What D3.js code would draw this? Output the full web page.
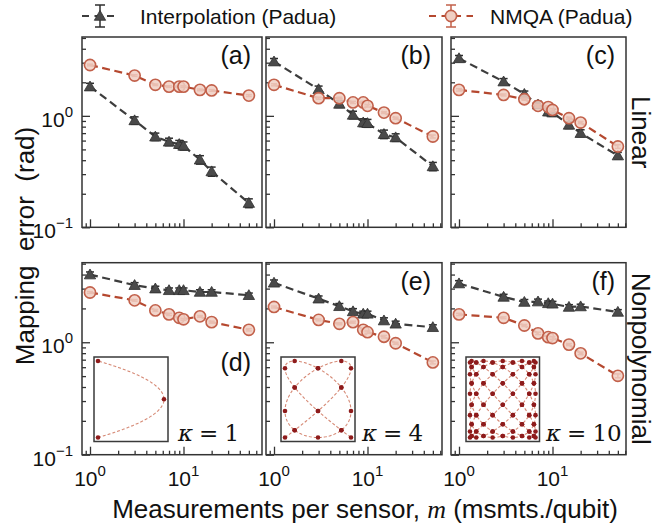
<!DOCTYPE html>
<html><head><meta charset="utf-8">
<script src="https://cdn.jsdelivr.net/npm/d3@7"></script>
<style>body{margin:0;background:#fff} svg{display:block}</style>
</head><body><svg id="c" width="657" height="528"></svg>
<script>
// ---------------- DATA ----------------
const mValues = [1, 3, 5, 7, 9, 10, 15, 20, 50];
const panelLabels = ["(a)", "(b)", "(c)", "(d)", "(e)", "(f)"];
const rowLabels = ["Linear", "Nonpolynomial"];
const kappaValues = [1, 4, 10];
const xTickLabels = ["0", "1"];
const yTickLabels = ["\u22121", "0"];
const legendLabels = ["Interpolation (Padua)", "NMQA (Padua)"];

const interpA = [1.83, 0.91, 0.65, 0.585, 0.557, 0.538, 0.404, 0.317, 0.165];
const interpB = [3.07, 1.73, 1.28, 1.02, 0.871, 0.859, 0.685, 0.640, 0.352];
const interpC = [3.28, 2.03, 1.57, 1.26, 1.09, 1.07, 0.83, 0.70, 0.44];
const interpD = [4.00, 3.22, 3.00, 2.90, 2.90, 2.90, 2.80, 2.80, 2.62];
const interpE = [3.38, 2.44, 2.09, 1.88, 1.79, 1.79, 1.56, 1.46, 1.36];
const interpF = [3.33, 2.53, 2.28, 2.30, 2.22, 2.20, 2.06, 2.08, 1.86];

const nmqaA = [2.86, 2.30, 1.90, 1.83, 1.83, 1.83, 1.71, 1.69, 1.52];
const nmqaB = [1.90, 1.44, 1.44, 1.32, 1.32, 1.23, 1.07, 0.953, 0.653];
const nmqaC = [1.71, 1.54, 1.41, 1.23, 1.20, 1.13, 0.953, 0.871, 0.531];
const nmqaD = [2.77, 2.36, 1.92, 1.77, 1.65, 1.60, 1.70, 1.51, 1.29];
const nmqaE = [2.06, 1.58, 1.46, 1.51, 1.29, 1.23, 1.12, 0.98, 0.662];
const nmqaF = [1.77, 1.65, 1.41, 1.20, 1.11, 1.09, 0.953, 0.797, 0.503];

const interpErrA = [0.13, 0.07, 0.05, 0.045, 0.045, 0.045, 0.035, 0.03, 0.015];
const interpErrB = [0.20, 0.12, 0.09, 0.08, 0.07, 0.07, 0.06, 0.05, 0.03];
const interpErrC = [0.20, 0.13, 0.10, 0.09, 0.08, 0.08, 0.06, 0.05, 0.03];
const interpErrD = [0.22, 0.17, 0.15, 0.14, 0.14, 0.14, 0.13, 0.13, 0.12];
const interpErrE = [0.20, 0.14, 0.12, 0.11, 0.10, 0.10, 0.09, 0.08, 0.07];
const interpErrF = [0.20, 0.14, 0.12, 0.12, 0.11, 0.11, 0.10, 0.10, 0.09];

const nmqaErrA = [0.05, 0.04, 0.03, 0.03, 0.03, 0.03, 0.03, 0.03, 0.03];
const nmqaErrB = [0.04, 0.03, 0.03, 0.03, 0.03, 0.03, 0.02, 0.02, 0.02];
const nmqaErrC = [0.04, 0.03, 0.03, 0.03, 0.03, 0.03, 0.02, 0.02, 0.02];
const nmqaErrD = [0.05, 0.04, 0.04, 0.04, 0.03, 0.03, 0.03, 0.03, 0.03];
const nmqaErrE = [0.04, 0.03, 0.03, 0.03, 0.03, 0.03, 0.03, 0.02, 0.02];
const nmqaErrF = [0.04, 0.03, 0.03, 0.03, 0.03, 0.03, 0.02, 0.02, 0.02];

const interpSeries = [interpA, interpB, interpC, interpD, interpE, interpF];
const interpErrs = [interpErrA, interpErrB, interpErrC, interpErrD, interpErrE, interpErrF];
const nmqaSeries = [nmqaA, nmqaB, nmqaC, nmqaD, nmqaE, nmqaF];
const nmqaErrs = [nmqaErrA, nmqaErrB, nmqaErrC, nmqaErrD, nmqaErrE, nmqaErrF];

// ---------------- STYLE / LAYOUT ----------------
const FONT = "'Liberation Sans', Arial, Helvetica, sans-serif";
const SERIF = "'DejaVu Serif', 'Liberation Serif', serif";
const frameColor = "#333";
const interpColor = "#3d3d3d";
const nmqaColor = "#b5482f";
const circleStroke = "#c2604a";
const circleFill = "#f0cfc3";
const dotColor = "#8e1b1b";
const curveColor = "#d68a76";

const colsX = [[82, 262], [266, 442], [451, 626]];
const rowsY = [[37, 227.3], [262.7, 454.7]];
const yDomain = [0.1, 5.1];
const decadePx = 93.5, zeroOff = 8;
const majorY = [0.1, 1], minorY = [0.2,0.3,0.4,0.5,0.6,0.7,0.8,0.9,2,3,4,5];
const majorX = [1, 10];
const minorXAll = [0.9,2,3,4,5,6,7,8,9,20,30,40,50,60];

const svg = d3.select("#c");
svg.append("rect").attr("width", 657).attr("height", 528).attr("fill", "#fff");

const triangle = d3.symbol().type(d3.symbolTriangle).size(56);

function drawErr(g, cx, ya, yb, color, capW) {
  g.append("line").attr("x1", cx).attr("x2", cx).attr("y1", ya).attr("y2", yb)
    .attr("stroke", color).attr("stroke-width", 1.5);
  [ya, yb].forEach(yy => g.append("line").attr("x1", cx - capW/2).attr("x2", cx + capW/2)
    .attr("y1", yy).attr("y2", yy).attr("stroke", color).attr("stroke-width", 1.5));
}

function padua(n) {
  // generating curve of the Padua points of degree n
  const curve = d3.range(0, 401).map(i => {
    const t = Math.PI * i / 400;
    return [-Math.cos((n + 1) * t), -Math.cos(n * t)];
  });
  const pts = d3.range(0, n * (n + 1) + 1).map(k => {
    const t = k * Math.PI / (n * (n + 1));
    return [-Math.cos((n + 1) * t), -Math.cos(n * t)];
  });
  return {curve, pts};
}

const insetBoxes = [[94, 357, 168, 441.5], [281, 357, 355, 441.5], [466, 357, 539.5, 441.5]];
const kappaX = [178, 362, 546];

for (let i = 0; i < 6; i++) {
  const r = Math.floor(i / 3), c = i % 3;
  const [x0, x1] = colsX[c], [y0, y1] = rowsY[r];
  const x = d3.scaleLog()
    .domain([Math.pow(10, -zeroOff / decadePx), Math.pow(10, (x1 - x0 - zeroOff) / decadePx)])
    .range([x0, x1]);
  const y = d3.scaleLog().domain(yDomain).range([y1, y0]);
  const g = svg.append("g");

  // inset (Padua points) for bottom row
  if (r === 1) {
    const [bx0, by0, bx1, by1] = insetBoxes[c];
    const pad = 4;
    const ix = d3.scaleLinear().domain([-1, 1]).range([bx0 + pad, bx1 - pad]);
    const iy = d3.scaleLinear().domain([-1, 1]).range([by1 - pad, by0 + pad]);
    const {curve, pts} = padua(kappaValues[c]);
    g.append("rect").attr("x", bx0).attr("y", by0).attr("width", bx1 - bx0).attr("height", by1 - by0)
      .attr("fill", "#fff").attr("stroke", "#3a3a3a").attr("stroke-width", 1.5);
    g.append("path").attr("d", d3.line().x(d => ix(d[0])).y(d => iy(d[1]))(curve))
      .attr("fill", "none").attr("stroke", curveColor).attr("stroke-width", 1.1)
      .attr("stroke-dasharray", "3,2");
    g.selectAll("circle.pd").data(pts).join("circle")
      .attr("cx", d => ix(d[0])).attr("cy", d => iy(d[1])).attr("r", 2.3).attr("fill", dotColor);
    const kt = g.append("text").attr("x", kappaX[c]).attr("y", 441).attr("font-family", SERIF)
      .attr("font-size", 23).attr("fill", "#111");
    kt.append("tspan").attr("font-style", "italic").text("\u03BA");
    kt.append("tspan").attr("dx", 6).text("=");
    kt.append("tspan").attr("dx", 6).text(String(kappaValues[c]));
  }

  // ticks (inward)
  const minorX = minorXAll.filter(v => v >= x.domain()[0] && v <= x.domain()[1]);
  const axB = (vals, len) => d3.axisBottom(x).tickValues(vals).tickSize(-len).tickFormat("");
  const axL = (vals, len) => d3.axisLeft(y).tickValues(vals).tickSize(-len).tickFormat("");
  [[axB(majorX, 8)], [axB(minorX, 4)]].forEach(([ax]) => {
    const a = g.append("g").attr("transform", `translate(0,${y1})`).call(ax);
    a.select(".domain").remove();
    a.selectAll("line").attr("stroke", frameColor).attr("stroke-width", 1.3);
  });
  [[axL(majorY, 8)], [axL(minorY, 4)]].forEach(([ax]) => {
    const a = g.append("g").attr("transform", `translate(${x0},0)`).call(ax);
    a.select(".domain").remove();
    a.selectAll("line").attr("stroke", frameColor).attr("stroke-width", 1.3);
  });

  // frame
  g.append("rect").attr("x", x0).attr("y", y0).attr("width", x1 - x0).attr("height", y1 - y0)
    .attr("fill", "none").attr("stroke", frameColor).attr("stroke-width", 1.5);

  // y tick labels (left column)
  if (c === 0) {
    majorY.forEach((v, k) => {
      const t = g.append("text").attr("x", x0 - 9).attr("y", y(v) + 11).attr("text-anchor", "end")
        .attr("font-family", FONT).attr("font-size", 21).attr("fill", "#111");
      t.append("tspan").text("10");
      t.append("tspan").attr("dy", -10).attr("font-size", 15).text(yTickLabels[k]);
    });
  }
  // x tick labels (bottom row)
  if (r === 1) {
    majorX.forEach((v, k) => {
      const t = g.append("text").attr("x", x(v)).attr("y", 486).attr("text-anchor", "middle")
        .attr("font-family", FONT).attr("font-size", 21).attr("fill", "#111");
      t.append("tspan").text("10");
      t.append("tspan").attr("dy", -10).attr("font-size", 15).text(xTickLabels[k]);
    });
  }

  // panel label
  const py = (i === 3) ? 371 : y0 + 27;
  g.append("text").attr("x", x1 - 11).attr("y", py).attr("text-anchor", "end")
    .attr("font-family", FONT).attr("font-size", 25).attr("fill", "#111").text(panelLabels[i]);

  const line = d3.line().x((d, k) => x(mValues[k])).y(d => y(d));

  // interpolation series
  g.append("path").attr("d", line(interpSeries[i])).attr("fill", "none")
    .attr("stroke", interpColor).attr("stroke-width", 2.2).attr("stroke-dasharray", "8,4.5");
  interpSeries[i].forEach((v, k) => {
    const e = interpErrs[i][k];
    drawErr(g, x(mValues[k]), y(v - e), y(v + e), "#2e2e2e", 8);
    g.append("path").attr("d", triangle()).attr("transform", `translate(${x(mValues[k])},${y(v) + 1})`)
      .attr("fill", "#4a4a4a").attr("stroke", "#2e2e2e").attr("stroke-width", 0.8);
  });

  // NMQA series
  g.append("path").attr("d", line(nmqaSeries[i])).attr("fill", "none")
    .attr("stroke", nmqaColor).attr("stroke-width", 2.2).attr("stroke-dasharray", "8,4.5");
  nmqaSeries[i].forEach((v, k) => {
    const e = nmqaErrs[i][k];
    drawErr(g, x(mValues[k]), y(v - e), y(v + e), circleStroke, 6);
    g.append("circle").attr("cx", x(mValues[k])).attr("cy", y(v)).attr("r", 5.6)
      .attr("fill", circleFill).attr("fill-opacity", 0.85)
      .attr("stroke", circleStroke).attr("stroke-width", 1.6);
  });
}

// ---------------- LEGEND ----------------
function legendItem(lx0, lx1, textX, label, kind) {
  const g = svg.append("g");
  const cy = 16, cx = (lx0 + lx1) / 2;
  const col = kind === 0 ? interpColor : nmqaColor;
  g.append("line").attr("x1", lx0).attr("x2", lx1).attr("y1", cy).attr("y2", cy)
    .attr("stroke", col).attr("stroke-width", 2.2).attr("stroke-dasharray", "7,5.5");
  if (kind === 0) {
    drawErr(g, cx, 5, 27, "#2e2e2e", 10);
    g.append("path").attr("d", triangle()).attr("transform", `translate(${cx},${cy + 1})`)
      .attr("fill", "#4a4a4a").attr("stroke", "#2e2e2e").attr("stroke-width", 0.8);
  } else {
    drawErr(g, cx, 5, 27, circleStroke, 10);
    g.append("circle").attr("cx", cx).attr("cy", cy).attr("r", 5.6)
      .attr("fill", circleFill).attr("stroke", circleStroke).attr("stroke-width", 1.6);
  }
  g.append("text").attr("x", textX).attr("y", 24).attr("font-family", FONT)
    .attr("font-size", 21).attr("fill", "#111").text(label);
}
legendItem(82, 118, 140, legendLabels[0], 0);
legendItem(429, 473, 490, legendLabels[1], 1);

// ---------------- AXIS TITLES ----------------
svg.append("text").attr("transform", "translate(34,246) rotate(-90)").attr("text-anchor", "middle")
  .attr("font-family", FONT).attr("font-size", 26).attr("fill", "#111")
  .attr("xml:space", "preserve").text("Mapping  error  (rad)");

const xl = svg.append("text").attr("x", 365).attr("y", 518).attr("text-anchor", "middle")
  .attr("font-family", FONT).attr("font-size", 26).attr("fill", "#111");
xl.append("tspan").text("Measurements per sensor, ");
xl.append("tspan").attr("font-family", "'Liberation Serif', serif").attr("font-style", "italic").text("m");
xl.append("tspan").text(" (msmts./qubit)");

rowLabels.forEach((lab, r) => {
  const cy = (rowsY[r][0] + rowsY[r][1]) / 2;
  svg.append("text").attr("transform", `translate(632,${cy}) rotate(90)`).attr("text-anchor", "middle")
    .attr("font-family", FONT).attr("font-size", 26).attr("fill", "#111").text(lab);
});
</script>
</body></html>
